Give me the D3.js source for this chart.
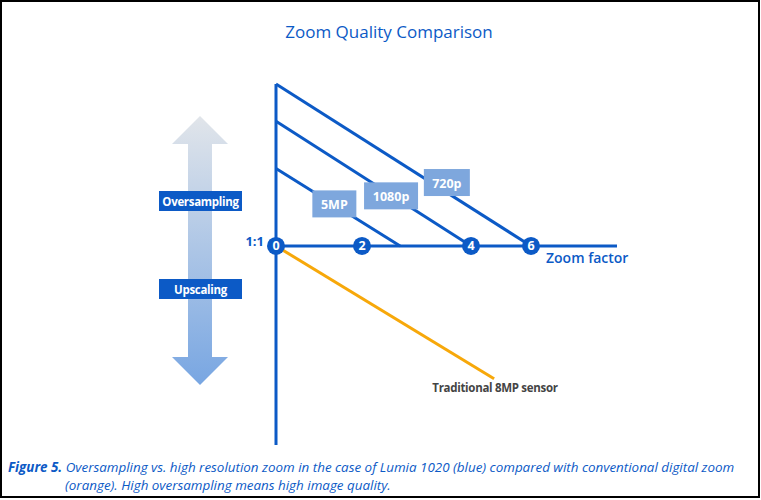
<!DOCTYPE html>
<html>
<head>
<meta charset="utf-8">
<script src="https://cdn.jsdelivr.net/npm/d3@7"></script>
<style>
  body { margin: 0; background: #fff; }
  svg { display: block; font-family: "Open Sans", "Noto Sans", sans-serif; }
</style>
</head>
<body>
<svg id="chart" width="761" height="500"></svg>
<script>
// zoom factor ticks shown on the axis
const zoomTicks = [0, 2, 4, 6];
// oversampling lines: start quality at 1x zoom, zoom factor where they reach 1:1
const modes = ['720p', '1080p', '5MP'];
const modeStart = [7, 5.39, 3.35];
const modeEnd = [6, 4, 2.7];
// traditional sensor drops below 1:1 as soon as zooming starts
const tradZoom = [0, 4.77];
const tradQuality = [0, -5.74];

const blue = '#0c5ac6';
const lightBlue = '#7ea7dd';
const orange = '#f7a80a';

const svg = d3.select('svg#chart');

// border
svg.append('rect')
  .attr('x', 1).attr('y', 1)
  .attr('width', 758).attr('height', 496)
  .attr('fill', 'none')
  .attr('stroke', '#000')
  .attr('stroke-width', 2);

// the zoom axis is drawn unevenly in the original, so use a piecewise scale
const x = d3.scaleLinear()
  .domain([0, 2, 4, 6, 8.8])
  .range([276, 362, 471, 531, 617]);
const y = d3.scaleLinear()
  .domain([-8.6, 7])
  .range([445, 84]);

svg.append('text')
  .attr('x', 389).attr('y', 38)
  .attr('text-anchor', 'middle')
  .attr('fill', blue)
  .attr('font-size', 17)
  .text('Zoom Quality Comparison');

// gradient double arrow
const defs = svg.append('defs');
const grad = defs.append('linearGradient')
  .attr('id', 'arrowGrad')
  .attr('x1', 0).attr('y1', 0).attr('x2', 0).attr('y2', 1);
grad.append('stop').attr('offset', '0%').attr('stop-color', '#e1e5ea');
grad.append('stop').attr('offset', '100%').attr('stop-color', '#78a6e2');

const ax = 200;
svg.append('path')
  .attr('d', [
    `M${ax},116`, `L${ax + 28},144`, `L${ax + 12},144`, `L${ax + 12},357`,
    `L${ax + 28},357`, `L${ax},385`, `L${ax - 28},357`, `L${ax - 12},357`,
    `L${ax - 12},144`, `L${ax - 28},144`, 'Z'
  ].join(''))
  .attr('fill', 'url(#arrowGrad)');

const tags = [{ label: 'Oversampling', y: 191 }, { label: 'Upscaling', y: 279 }];
const tagG = svg.append('g').selectAll('g').data(tags).enter().append('g');
tagG.append('rect')
  .attr('x', 159).attr('y', d => d.y)
  .attr('width', 83).attr('height', 20)
  .attr('fill', blue);
tagG.append('text')
  .attr('x', 200.5).attr('y', d => d.y + 14.5)
  .attr('text-anchor', 'middle')
  .attr('fill', '#fff')
  .attr('font-size', 11.5)
  .attr('font-weight', 'bold')
  .attr('letter-spacing', -0.3)
  .text(d => d.label);

// axes
svg.append('line')
  .attr('x1', x(0)).attr('x2', x(0))
  .attr('y1', y(7)).attr('y2', y(-8.6))
  .attr('stroke', blue).attr('stroke-width', 3);
svg.append('line')
  .attr('x1', x(0)).attr('x2', x(8.8))
  .attr('y1', y(0)).attr('y2', y(0))
  .attr('stroke', blue).attr('stroke-width', 3);

// traditional sensor
svg.append('line')
  .attr('x1', x(tradZoom[0])).attr('y1', y(tradQuality[0]))
  .attr('x2', x(tradZoom[1])).attr('y2', y(tradQuality[1]))
  .attr('stroke', orange).attr('stroke-width', 3);
svg.append('text')
  .attr('x', 495).attr('y', 392)
  .attr('text-anchor', 'middle')
  .attr('fill', '#444')
  .attr('font-size', 11.5)
  .attr('font-weight', 'bold')
  .attr('letter-spacing', -0.3)
  .text('Traditional 8MP sensor');

// oversampling lines
const lines = modes.map((m, i) => ({ mode: m, start: modeStart[i], end: modeEnd[i] }));
svg.append('g').selectAll('line').data(lines).enter().append('line')
  .attr('x1', x(0)).attr('y1', d => y(d.start))
  .attr('x2', d => x(d.end)).attr('y2', y(0))
  .attr('stroke', blue).attr('stroke-width', 3);

// label boxes sit along each line
const boxAt = { '720p': [0.67, -10, 46], '1080p': [0.59, 1, 54], '5MP': [0.47, -1, 44] };
const boxG = svg.append('g').selectAll('g').data(lines).enter().append('g')
  .attr('transform', d => {
    const [t, dy] = boxAt[d.mode];
    const px = x(0) + (x(d.end) - x(0)) * t;
    const py = y(d.start) + (y(0) - y(d.start)) * t + dy;
    return `translate(${px},${py})`;
  });
boxG.append('rect')
  .attr('x', d => -boxAt[d.mode][2] / 2).attr('y', -13.5)
  .attr('width', d => boxAt[d.mode][2]).attr('height', 27)
  .attr('fill', lightBlue);
boxG.append('text')
  .attr('y', 5)
  .attr('text-anchor', 'middle')
  .attr('fill', '#fff')
  .attr('font-size', 12.5)
  .attr('font-weight', 'bold')
  .text(d => d.mode);

// tick circles
const tickG = svg.append('g').selectAll('g').data(zoomTicks).enter().append('g')
  .attr('transform', d => `translate(${x(d)},${y(0)})`);
tickG.append('circle').attr('r', 9).attr('fill', blue);
tickG.append('text')
  .attr('y', 4.5)
  .attr('text-anchor', 'middle')
  .attr('fill', '#fff')
  .attr('font-size', 12.5)
  .attr('font-weight', 'bold')
  .text(d => d);

svg.append('text')
  .attr('x', 264).attr('y', 246)
  .attr('text-anchor', 'end')
  .attr('fill', blue)
  .attr('font-size', 13)
  .attr('font-weight', 'bold')
  .text('1:1');

svg.append('text')
  .attr('x', 546).attr('y', 263)
  .attr('fill', blue)
  .attr('font-size', 14)
  .attr('font-weight', 600)
  .text('Zoom factor');

// caption
const cap = svg.append('text')
  .attr('fill', blue)
  .attr('font-size', 13.4)
  .attr('font-style', 'italic');
const l1 = cap.append('tspan').attr('x', 8).attr('y', 472);
l1.append('tspan').attr('font-weight', 'bold').text('Figure 5.');
l1.append('tspan').text(' Oversampling vs. high resolution zoom in the case of Lumia 1020 (blue) compared with conventional digital zoom');
cap.append('tspan').attr('x', 65).attr('y', 490)
  .text('(orange). High oversampling means high image quality.');
</script>
</body>
</html>
